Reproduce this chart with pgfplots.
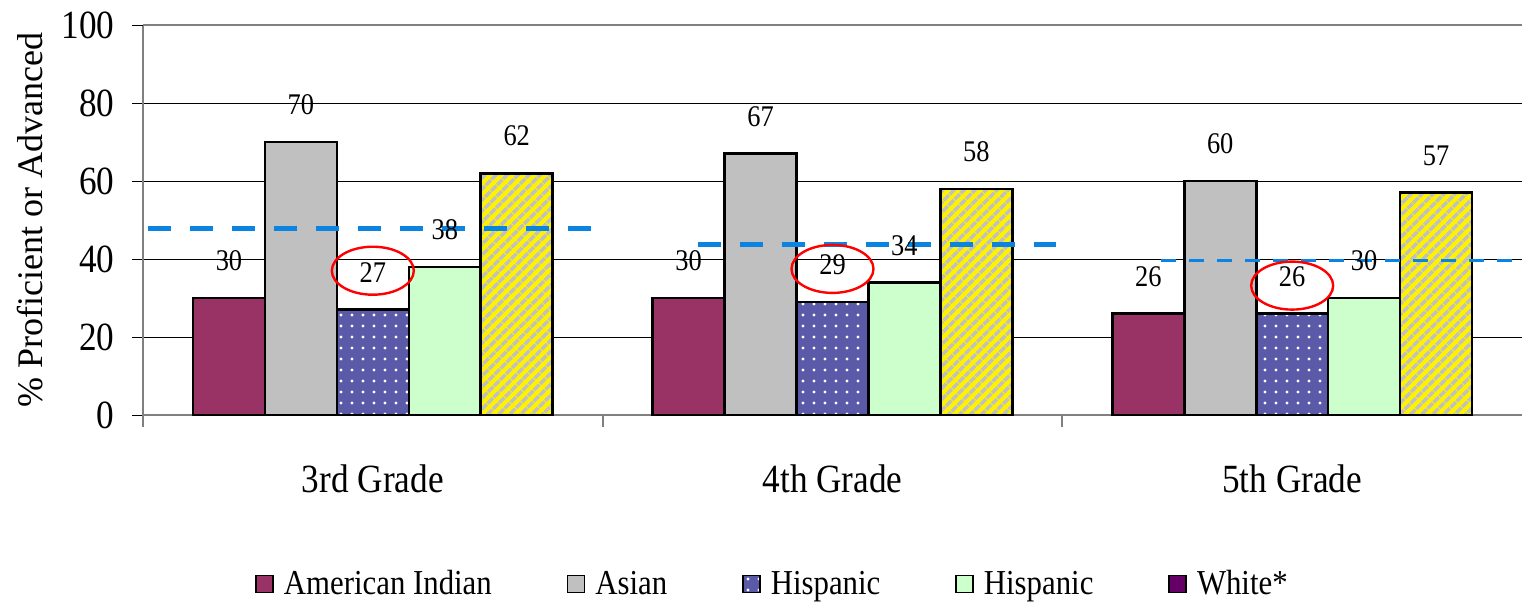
\documentclass[border=0pt]{standalone}
\usepackage{fontspec}
\setmainfont{Liberation Serif}[FakeStretch=0.88]
\newfontfamily\ylabfont{Liberation Serif}
\usepackage{pgfplots}
\pgfplotsset{compat=1.18}
\usetikzlibrary{patterns,patterns.meta,shapes.geometric}
\definecolor{plum}{HTML}{993366}
\definecolor{silv}{HTML}{C0C0C0}
\definecolor{hisp}{HTML}{5A5AA8}
\definecolor{mint}{HTML}{CCFFCC}
\definecolor{purp}{HTML}{660066}
\definecolor{dashc}{HTML}{0A84E0}
\definecolor{axgray}{HTML}{808080}
\pgfplotsset{
  mybar/.style 2 args={ybar, bar width=0.1565, bar shift=#1, draw=black, line width=1.3pt, forget plot,
    nodes near coords={\pgfmathprintnumber[assume math mode=true]{\pgfplotspointmeta}},
    every node near coord/.append style={font=\fontsize{15}{18}\selectfont, anchor=center, yshift=18.5pt, xshift=#2, black}},
  hisppat/.style={fill=hisp, postaction={pattern={Dots[distance=5.5pt,radius=0.8pt]}, pattern color=white}},
  yelpat/.style={fill=yellow, postaction={pattern={Lines[angle=45,distance=4pt,line width=1.9pt]}, pattern color=silv}},
}
\begin{document}
\begin{tikzpicture}
\path[use as bounding box] (-71.5pt,-93pt) rectangle (689.5pt,207.5pt);
\begin{axis}[
  at={(0,0)}, anchor=south west,
  scale only axis, width=689.5pt, height=195pt,
  xmin=-0.5, xmax=2.5, ymin=0, ymax=100,
  axis lines*=left,
  axis line style={axgray, line width=1pt},
  ytick={0,20,40,60,80}, yticklabels={0,20,40,60,80},
  extra y ticks={100}, extra y tick labels={100},
  ymajorgrids, grid style={black, line width=0.5pt},
  extra y tick style={grid style={axgray, line width=1pt}},
  ytick align=outside, major tick length=5.5pt,
  ytick style={black, line width=0.5pt},
  yticklabel style={font=\fontsize{20}{24}\selectfont, anchor=east, inner sep=0pt, xshift=-8.5pt},
  xtick={0,1,2}, xticklabels={3rd Grade,4th Grade,5th Grade},
  xtick style={draw=none},
  xticklabel style={font=\fontsize{20}{24}\selectfont, anchor=base, inner sep=0pt, yshift=-38.5pt},
  extra x ticks={-0.5,0.5,1.5}, extra x tick labels={},
  extra x tick style={xtick style={draw=axgray, line width=1pt}, tick align=outside, major tick length=6pt, grid=none},
  ylabel={\% Proficient or Advanced},
  ylabel style={font=\ylabfont\fontsize{18}{20}\selectfont, at={(axis description cs:0,0.5)}, anchor=center, yshift=56.5pt},
  legend image code/.code={\draw[#1, draw=black, line width=0.8pt] (0pt,-4.25pt) rectangle (8.5pt,4.25pt);},
  legend style={draw=none, legend columns=5, at={(0.4558,0)}, anchor=center, yshift=-84.5pt,
    font=\fontsize{17.5}{20}\selectfont,
    nodes={inner sep=0pt},
    /tikz/every even column/.append style={column sep=37.5pt},
    /tikz/every odd column/.append style={column sep=5pt},
    cells={anchor=west}},
]
\addplot[mybar={-0.313}{-71.94pt}, fill=plum] coordinates {(0,30) (1,30) (2,26)};
\addplot[mybar={-0.1565}{-35.97pt}, fill=silv] coordinates {(0,70) (1,67) (2,60)};
\addplot[mybar={0}{0pt}, hisppat] coordinates {(0,27) (1,29) (2,26)};
\addplot[mybar={0.1565}{35.97pt}, fill=mint] coordinates {(0,38) (1,34) (2,30)};
\addplot[mybar={0.313}{71.94pt}, yelpat] coordinates {(0,62) (1,58) (2,57)};
\addlegendimage{fill=plum}
\addlegendentry{American Indian}
\addlegendimage{fill=silv}
\addlegendentry{Asian}
\addlegendimage{hisppat}
\addlegendentry{Hispanic}
\addlegendimage{fill=mint}
\addlegendentry{Hispanic}
\addlegendimage{fill=purp}
\addlegendentry{White*}
\addplot[sharp plot, no marks, forget plot, draw=dashc, line width=2.5pt, dash pattern=on 11.5pt off 9.5pt] coordinates {(-0.489,47.7) (0.487,47.7)};
\addplot[sharp plot, no marks, forget plot, draw=dashc, line width=2.5pt, dash pattern=on 11.5pt off 9.5pt] coordinates {(0.7065,43.6) (1.487,43.6)};
\addplot[sharp plot, no marks, forget plot, draw=dashc, line width=1.5pt, dash pattern=on 7.5pt off 6.5pt] coordinates {(1.715,39.5) (2.5,39.5)};
\node[draw=red, line width=1.2pt, ellipse, minimum width=41pt, minimum height=24pt, inner sep=0pt] at ([yshift=19.5pt]axis cs:0,27) {};
\node[draw=red, line width=1.2pt, ellipse, minimum width=41pt, minimum height=24pt, inner sep=0pt] at ([yshift=16.5pt]axis cs:1,29) {};
\node[draw=red, line width=1.2pt, ellipse, minimum width=41pt, minimum height=24pt, inner sep=0pt] at ([yshift=14pt]axis cs:2,26) {};
\end{axis}
\end{tikzpicture}
\end{document}
